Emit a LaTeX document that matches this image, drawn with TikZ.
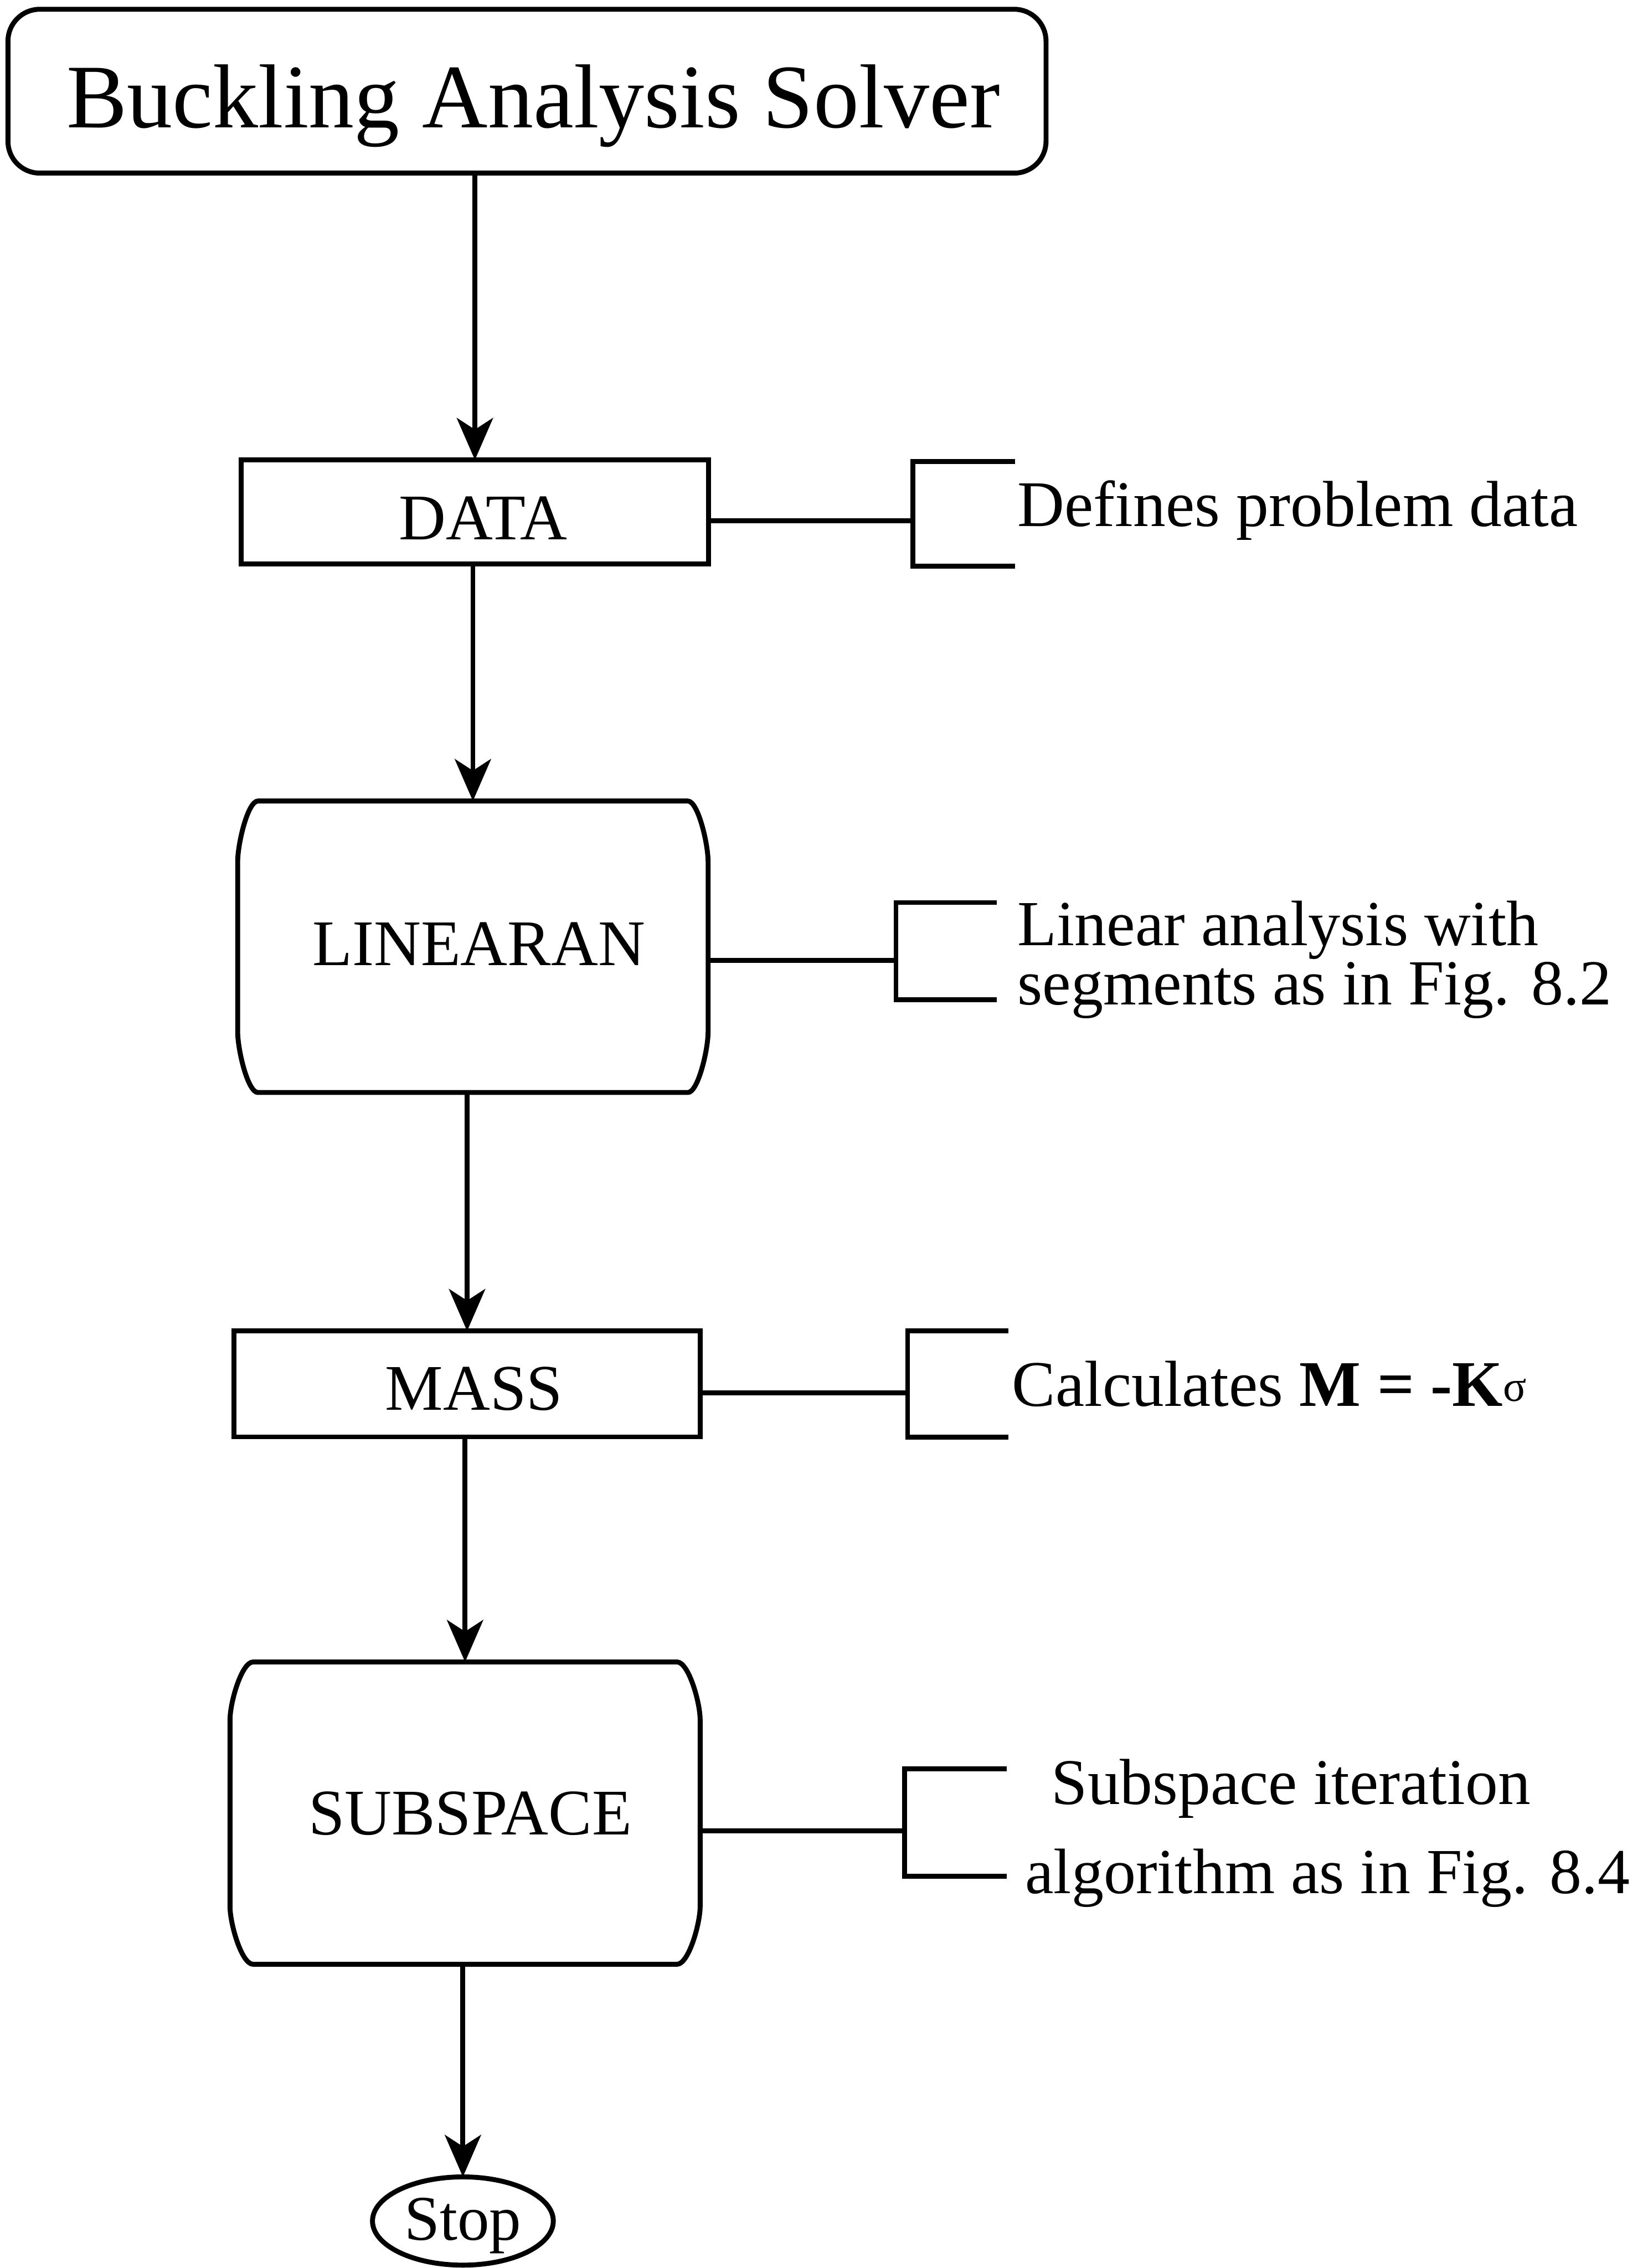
\documentclass[tikz,border=0pt]{standalone}
\usepackage{fontspec}
\setmainfont{Liberation Serif}
\usetikzlibrary{arrows.meta,calc,shapes.geometric}

% Box with flattened, bulging corners drawn round an (invisible) rectangle node.
% #1 node name, #2 horizontal corner size, #3 vertical corner size
\newcommand\barrelbox[3]{%
  \draw
    ($(#1.north west)+(#2,0)$) -- ($(#1.north east)+(-#2,0)$)
    .. controls ($(#1.north east)+(-0.5*#2,0)$) and ($(#1.north east)+(0,0.7*#3)$) .. ($(#1.north east)+(0,#3)$)
    -- ($(#1.south east)+(0,-#3)$)
    .. controls ($(#1.south east)+(0,-0.7*#3)$) and ($(#1.south east)+(-0.5*#2,0)$) .. ($(#1.south east)+(-#2,0)$)
    -- ($(#1.south west)+(#2,0)$)
    .. controls ($(#1.south west)+(0.5*#2,0)$) and ($(#1.south west)+(0,-0.7*#3)$) .. ($(#1.south west)+(0,-#3)$)
    -- ($(#1.north west)+(0,#3)$)
    .. controls ($(#1.north west)+(0,0.7*#3)$) and ($(#1.north west)+(0.5*#2,0)$) .. cycle;
}

\begin{document}
\begin{tikzpicture}[x=0.5pt,y=-0.5pt,
  line width=1.7pt,
  frame/.style={draw, rectangle, inner sep=0pt, outer sep=0pt},
  shell/.style={rectangle, inner sep=0pt, outer sep=0pt},
  flow/.style={-{Stealth[length=14.5pt,width=12.5pt,inset=4pt]}},
  lbl/.style={font=\fontsize{22.5pt}{27pt}\selectfont, inner sep=0pt, anchor=base},
  note/.style={lbl, anchor=base west},
  twoline/.style={note, font=\fontsize{22.2pt}{26pt}\selectfont},
]
\useasboundingbox (0,0) rectangle (1139,1568);

% main column
\node[frame, rounded corners=11pt, minimum width=358.8pt, minimum height=56.65pt] (title) at (364.3,63.05) {};
\node[lbl, font=\fontsize{31.4pt}{36pt}\selectfont] (titletext) at (368.7,88.2) {Buckling Analysis Solver};

\node[frame, minimum width=161.6pt, minimum height=36pt] (data) at (328.3,354) {};
\node[lbl] (datatext) at (334,373) {DATA};

\node[shell, minimum width=162.6pt, minimum height=100.75pt] (lin) at (326.9,654.55) {};
\barrelbox{lin}{14}{42}
\node[lbl] (lintext) at (331,667.5) {LINEARAN};

\node[frame, minimum width=161.3pt, minimum height=36.6pt] (mass) at (322.9,956.8) {};
\node[lbl] (masstext) at (327.6,975) {MASS};

\node[shell, minimum width=162.5pt, minimum height=104.5pt] (sub) at (321.5,1253.5) {};
\barrelbox{sub}{16}{40}
\node[lbl] (subtext) at (325,1268.3) {SUBSPACE};

\node[draw, ellipse, inner sep=0pt, outer sep=0pt, minimum width=62.5pt, minimum height=30.5pt] (stop) at (320,1535.5) {};
\node[lbl, font=\fontsize{22pt}{26pt}\selectfont] (stoptext) at (320,1548.5) {Stop};

% flow arrows
\draw[flow] (data.north |- title.south) -- (data.north);
\draw[flow] (lin.north |- data.south) -- (lin.north);
\draw[flow] (mass.north |- lin.south) -- (mass.north);
\draw[flow] (sub.north |- mass.south) -- (sub.north);
\draw[flow] (stop.north |- sub.south) -- (stop.north);

% side notes with brackets
\coordinate (dataJ) at (631.1,360.2);
\draw (data.east |- dataJ) -- (dataJ);
\draw (701.8,319.2) -| (dataJ) |- (701.8,391.3);
\node[note] (datanote) at (701.8,363.8) {Defines problem data};

\coordinate (linJ) at (619.4,664);
\draw (lin.east |- linJ) -- (linJ);
\draw (689,624) -| (linJ) |- (689,691);
\node[twoline] (linnote1) at (701.8,653.8) {Linear analysis with};
\node[twoline] (linnote2) at (701.8,694.6) {segments as in Fig. 8.2};

\coordinate (massJ) at (627.4,962.8);
\draw (mass.east |- massJ) -- (massJ);
\draw (697.2,920.2) -| (massJ) |- (697.2,993.6);
\node[note] (massnote) at (698,972.3) {Calculates \textbf{M = -K}\raisebox{1.75pt}{\fontsize{15pt}{18pt}\selectfont σ}};

\coordinate (subJ) at (625.4,1265.8);
\draw (sub.east |- subJ) -- (subJ);
\draw (696,1223) -| (subJ) |- (696,1297);
\node[lbl] (subnote1) at (892.4,1247.2) {Subspace iteration};
\node[note, font=\fontsize{22.2pt}{26pt}\selectfont] (subnote2) at (707,1309) {algorithm as in Fig. 8.4};
\end{tikzpicture}
\end{document}
